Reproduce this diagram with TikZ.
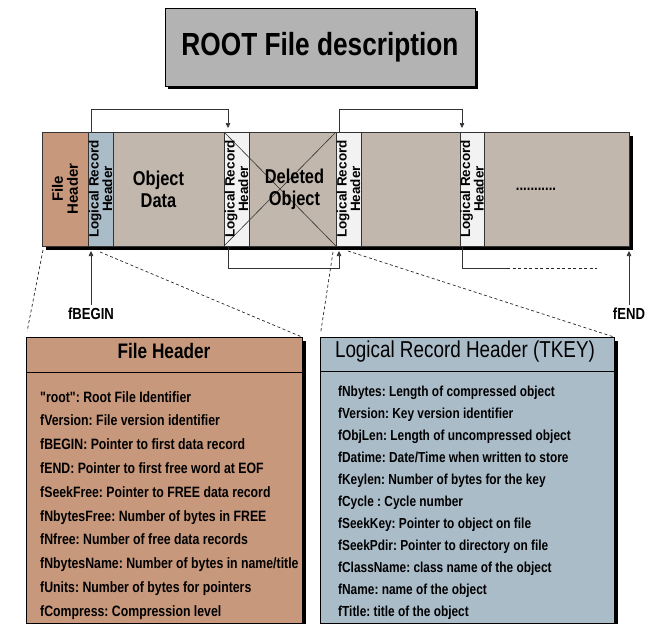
\documentclass[tikz,border=0pt]{standalone}
\usepackage{fontspec}
\setmainfont{Liberation Sans}[FakeStretch=0.82,Ligatures=TeXOff]
\newfontfamily\widefont{Liberation Sans}
\usetikzlibrary{arrows.meta,positioning,shadows}
\definecolor{titlegray}{RGB}{179,179,179}
\definecolor{hdrorange}{RGB}{200,152,124}
\definecolor{keyblue}{RGB}{171,188,201}
\definecolor{datatan}{RGB}{193,183,172}
\definecolor{keywhite}{RGB}{242,242,242}
\tikzset{
  blackshadow/.style={drop shadow={shadow xshift=#1,shadow yshift=-#1,opacity=1,fill=black}},
  segment/.style={draw=black!80,line width=0.7pt,minimum height=114pt,inner sep=0pt,outer sep=0pt},
  keyseg/.style={segment,fill=keywhite,minimum width=25pt},
  vlabel/.style={rotate=90,align=center,inner sep=0pt,font=\widefont\bfseries\fontsize{13.5}{12}\selectfont},
  link/.style={draw=black!80,line width=0.7pt,-{Triangle[length=5pt,width=4.5pt]}},
  zoomline/.style={draw=black!85,line width=0.7pt,dash pattern=on 3pt off 2.5pt}
}
\frenchspacing
\begin{document}
\begin{tikzpicture}[
    x=1pt,y=-1pt,
    titlebox/.style={draw=black,line width=0.8pt,fill=titlegray,minimum width=310pt,minimum height=78pt,
      blackshadow=3pt,font=\bfseries\fontsize{32}{34}\selectfont},
    infobox/.style={draw=black,line width=0.8pt,anchor=north west,inner sep=0pt,outer sep=0pt,
      minimum height=286pt,blackshadow=3.5pt},
    fields/.style={anchor=north west,align=left,inner sep=0pt},
    bigword/.style={align=center,inner sep=0pt,font=\bfseries\fontsize{20}{22}\selectfont}]
  \useasboundingbox (0,0) rectangle (657,624);

  \node[titlebox] (title) at (320,47) {ROOT File description};

  % the file as one long strip
  \node[segment,fill=datatan,minimum width=587pt,anchor=north west,blackshadow=4pt] (bar) at (42,132) {};
  \node[segment,fill=hdrorange,minimum width=46pt,anchor=north west] (fh) at (42,132) {};
  \node[segment,fill=keyblue,minimum width=25pt,right=0pt of fh] (lrh1) {};
  \node[segment,fill=datatan,minimum width=111pt,right=0pt of lrh1] (objdata) {};
  \node[keyseg,right=0pt of objdata] (lrh2) {};
  \node[segment,fill=datatan,minimum width=87pt,right=0pt of lrh2] (deleted) {};
  \node[keyseg,right=0pt of deleted] (lrh3) {};
  \node[segment,fill=datatan,minimum width=99pt,right=0pt of lrh3] (data2) {};
  \node[keyseg,minimum width=24pt,right=0pt of data2] (lrh4) {};
  \node[segment,fill=datatan,minimum width=145pt,right=0pt of lrh4] (rest) {};

  \draw[draw=black!80,line width=0.6pt] (lrh2.north west) -- (deleted.south east)
    (lrh2.south west) -- (deleted.north east);

  \node[bigword] (objtext) at ([xshift=-10pt]objdata.center) {Object\\Data};
  \node[bigword] (deltext) at ([xshift=2pt]deleted.center) {Deleted\\Object};
  \node[vlabel,font=\widefont\bfseries\fontsize{15}{15}\selectfont] (fhtext) at (fh.center) {File\\Header};
  \node[vlabel] (lrhtext1) at (lrh1.center) {Logical Record\\Header};
  \node[vlabel] (lrhtext2) at (lrh2.center) {Logical Record\\Header};
  \node[vlabel] (lrhtext3) at (lrh3.center) {Logical Record\\Header};
  \node[vlabel] (lrhtext4) at (lrh4.center) {Logical Record\\Header};
  \node[anchor=base,inner sep=0pt,font=\bfseries\fontsize{16}{16}\selectfont] (dots) at (536,190) {...........};

  % pointers between the records
  \draw[link,shorten >=4pt] ([xshift=3pt]lrh1.north west) -- ++(0,-23) -| ([xshift=4pt]lrh2.north west);
  \draw[link,shorten >=4pt] ([xshift=3pt]lrh3.north west) -- ++(0,-23) -| ([xshift=2pt]lrh4.north west);
  \draw[link,shorten >=5pt] ([xshift=4pt]lrh2.south west) -- ++(0,22) -| ([xshift=3pt]lrh3.south west);
  \draw[draw=black!80,line width=0.7pt] ([xshift=2pt]lrh4.south west) -- ++(0,22) -- ++(45,0) coordinate (tailend);
  \draw[zoomline] (tailend) -- ++(90,0);

  \node[font=\bfseries\fontsize{16}{16}\selectfont] (fbegin) at (91,314) {fBEGIN};
  \node[font=\bfseries\fontsize{16}{16}\selectfont] (fend) at (629,314) {fEND};
  \draw[link,shorten >=5pt] (fbegin.north) -- (fbegin.north |- bar.south);
  \draw[link,shorten >=5pt] (fend.north) -- (fend.north |- bar.south);

  % detail boxes
  \node[infobox,fill=hdrorange,minimum width=276pt] (fhbox) at (26,337) {};
  \node[font=\bfseries\fontsize{21}{21}\selectfont] (fhtitle) at ([shift={(0,14)}]fhbox.north) {File Header};
  \draw[line width=0.8pt] ([shift={(0,35)}]fhbox.north west) -- ([shift={(0,35)}]fhbox.north east);
  \node[fields,font=\bfseries\fontsize{15}{23.8}\selectfont] (fhfields) at ([shift={(14,54)}]fhbox.north west)
    {"root": Root File Identifier\\
     fVersion: File version identifier\\
     fBEGIN: Pointer to first data record\\
     fEND: Pointer to first free word at EOF\\
     fSeekFree: Pointer to FREE data record\\
     fNbytesFree: Number of bytes in FREE\\
     fNfree: Number of free data records\\
     fNbytesName: Number of bytes in name/title\\
     fUnits: Number of bytes for pointers\\
     fCompress: Compression level};

  \node[infobox,fill=keyblue,minimum width=294pt] (keybox) at (320,337) {};
  \node[font=\fontsize{23}{23}\selectfont] (keytitle) at ([shift={(-2,15)}]keybox.north) {Logical Record Header (TKEY)};
  \draw[line width=0.8pt] ([shift={(0,34)}]keybox.north west) -- ([shift={(0,34)}]keybox.north east);
  \node[fields,font=\bfseries\fontsize{14.5}{22}\selectfont] (keyfields) at ([shift={(18,49)}]keybox.north west)
    {fNbytes: Length of compressed object\\
     fVersion: Key version identifier\\
     fObjLen: Length of uncompressed object\\
     fDatime: Date/Time when written to store\\
     fKeylen: Number of bytes for the key\\
     fCycle : Cycle number\\
     fSeekKey: Pointer to object on file\\
     fSeekPdir: Pointer to directory on file\\
     fClassName: class name of the object\\
     fName: name of the object\\
     fTitle: title of the object};

  % which part of the strip each box describes
  \draw[zoomline,shorten >=6pt] ([shift={(1,4)}]fh.south west) -- (fhbox.north west);
  \draw[zoomline] ([shift={(12,6)}]lrh1.south west) -- (fhbox.north east);
  \draw[zoomline,shorten >=6pt] ([shift={(-3,6)}]lrh3.south west) -- (keybox.north west);
  \draw[zoomline] ([shift={(12,5)}]lrh3.south west) -- (keybox.north east);
\end{tikzpicture}
\end{document}
